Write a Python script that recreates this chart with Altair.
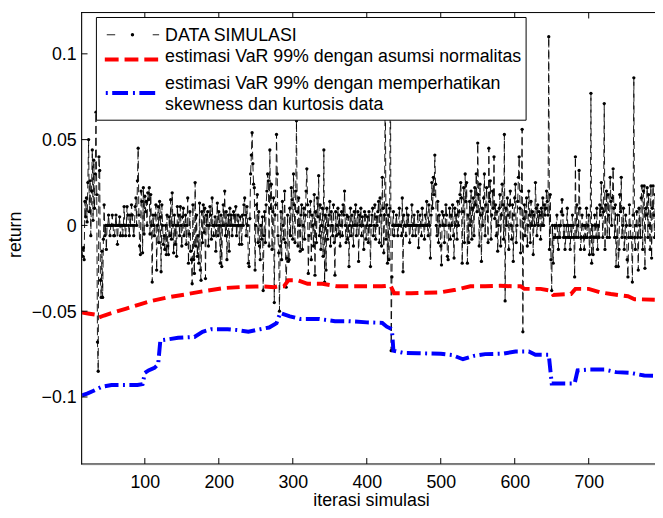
import altair as alt
import pandas as pd

FONT = "Liberation Sans"

# ---- DATA SIMULASI: return (x 1000), one value per iteration ----
# iterations 15 .. 114
ret_015_114 = [
    -14, -18, -13, -20, 14, 5, 16, 2, 25, 50,
    8, 26, -6, 20, 44, 3, 38, 10, 30, 66,
    18, -68, -85, 40, 32, -32, -42, -15, -42, -8,
    12, -6, 0, -14, 0, 0, 6, 0, -6, 0,
    0, 6, 0, -6, -6, 0, 6, 0, -11, 0,
    0, 5, -6, 0, 0, -6, 0, 11, 0, -6,
    0, 11, 6, 0, -6, 6, 0, 12, 6, 0,
    -6, 0, 11, 16, 0, 26, 45, 6, -12, -17,
    20, 14, -16, 22, -5, 17, 8, 14, 0, 19,
    15, 22, -5, 18, 0, -33, 6, 0, -6, 6,
]
# iterations 115 .. 214
ret_115_214 = [
    12, -26, 0, 11, -10, 14, 5, -27, 12, 0,
    -11, -6, -14, 0, -17, 6, -12, -17, 5, -6,
    15, -8, 19, 0, -16, 6, -11, 0, -18, 11,
    0, 6, -6, 11, 0, -12, 5, 10, -6, 0,
    6, -11, 0, 16, -22, -5, 8, -15, -20, -34,
    12, -20, -28, 25, -12, 6, -18, -6, -22, 13,
    -26, -32, 8, -10, 12, -4, 10, -31, 6, 0,
    8, -12, 0, 11, 6, -8, 16, 0, -6, 0,
    5, -15, 0, 13, -6, 8, 0, -22, 6, -24,
    0, 12, 0, 20, -6, 8, -20, 0, 6, -15,
]
# iterations 215 .. 314
ret_215_314 = [
    10, 0, 6, -6, 0, 8, 6, 0, 11, -6,
    0, 6, 0, -11, 5, 0, -11, 6, 0, 12,
    16, 6, -6, 11, 0, -22, -24, 4, 30, 41,
    54, 36, 24, 22, -26, 0, 12, 18, -10, 8,
    -12, -20, 0, -8, 5, -38, -6, 8, -10, 12,
    20, 30, 26, -12, 44, 10, 24, -14, 8, 16,
    -45, 6, 12, 53, 30, -6, -16, -50, -12, 8,
    -20, 14, 0, -8, 20, -10, -36, -19, 6, -21,
    -20, 10, -6, 22, 15, -8, 30, 12, -10, 20,
    61, 8, -12, 16, 0, -15, 6, 12, -14, 0,
]
# iterations 315 .. 414
ret_315_414 = [
    10, -8, 6, 20, 33, 12, -28, -6, 8, 14,
    -20, 6, 0, -12, 18, -29, 8, -10, 16, 5,
    29, -6, 12, -14, 0, 10, -18, 44, -33, 6,
    -26, 10, -8, 0, 6, 14, -12, 8, 0, -6,
    12, -10, -29, 8, -6, 0, 10, -5, 6, -12,
    0, 8, -6, 12, 6, 20, 0, -10, 6, -8,
    5, -24, 0, 10, -6, 6, 0, -12, 8, 0,
    12, -6, 0, 8, -21, 6, 0, 10, -6, 5,
    0, -14, 8, 6, -8, 0, 5, -10, 8, 0,
    -24, 0, 6, 10, -6, 0, 12, -8, 5, 0,
]
# iterations 415 .. 514
ret_415_514 = [
    8, 14, -10, 16, 6, -12, 28, 10, -16, 6,
    90, -8, 12, -22, 6, -20, 10, 105, -73, -30,
    0, 8, -6, 0, 0, 6, 0, -6, 0, 10,
    0, 0, -6, 16, -27, 6, 0, 0, -6, 10,
    0, 6, 0, -10, 0, 0, 12, -6, 0, 6,
    0, -6, 0, 0, 8, -13, 0, 6, 0, -6,
    10, 0, 0, -8, 6, 0, 14, 0, -6, 12,
    0, -19, 6, 25, 10, 28, 18, 41, 24, 0,
    -6, 14, -10, 6, 0, -12, -23, 8, 0, 6,
    -10, 0, 12, 6, -18, -20, 0, 10, -8, 6,
]
# iterations 515 .. 614
ret_515_614 = [
    0, 12, -6, -19, 10, 0, 6, -8, 14, 0,
    8, 18, 25, 16, -22, 8, 22, -10, 30, 14,
    25, -22, 6, -10, 14, 0, 20, -8, 10, 16,
    -6, 22, 12, 30, 8, 48, 18, -12, 24, 6,
    -21, 10, 0, 16, 30, -6, 12, 22, 8, -10,
    45, 14, 26, -8, 6, 20, 10, 40, 4, 12,
    -6, 8, -15, 0, 10, 18, -12, 6, 24, 12,
    -8, 53, -44, 10, 0, 16, 6, -14, 12, 20,
    0, -8, 12, -21, 6, 16, 24, -10, 0, 14,
    28, 40, 10, -16, 20, 56, -62, 4, 12, -6,
]
# iterations 615 .. 714
ret_615_714 = [
    8, 16, -12, 0, 20, 6, -10, 14, 0, 8,
    -17, 6, 0, 25, 10, -6, 12, 0, 8, 6,
    -8, 10, 0, 16, 0, 12, 6, 10, 20, 14,
    6, 110, -14, 18, -20, -38, 0, -22, -7, 0,
    -7, 0, 6, -7, -14, 0, -7, 0, 8, 15,
    6, -7, 0, -14, -7, 0, 10, -7, 0, -7,
    -14, 0, -7, 6, 0, -7, -30, 40, -7, 12,
    0, -7, 32, 10, -14, -7, 6, 0, -7, -14,
    0, -7, 10, -7, 0, 6, -17, -7, 77, -22,
    0, -17, -7, 6, 0, -7, 10, -14, 0, -7,
]
# iterations 715 .. 794
ret_715_794 = [
    12, 6, 25, 10, -7, 8, 71, -14, 12, 20,
    -7, 18, 6, -7, 28, 14, 0, 16, 33, 10,
    -7, 12, -24, -7, 6, -24, -14, 18, 8, 28,
    -7, 0, 10, -14, -7, 6, 0, -20, -30, -7,
    12, 0, -7, -7, -33, 6, 86, -7, -14, 0,
    8, -7, -26, 10, 0, -7, 16, 23, -14, 20,
    23, -25, 10, 6, 22, -7, 18, 0, -14, 23,
    -19, 10, 23, 6, -7, 18, 0, 12, -7, 6,
]

# ---- VaR 99% normal assumption (x 1000) ----
red_x = [15, 25, 33, 37, 45, 56, 75, 90, 109, 130,
         154, 180, 207, 235, 260, 275, 280, 288, 294, 307,
         320, 340, 360, 390, 420, 432, 437, 460, 480, 500,
         520, 540, 560, 580, 600, 608, 613, 635, 648, 652,
         676, 682, 700, 715, 730, 753, 762, 790]
red_y = [-50.8, -51.5, -52, -53.8, -52.5, -51, -48.5, -46.5, -44, -42,
         -40.3, -38.3, -36.5, -35.8, -35.5, -36, -35.5, -35.5, -32, -32,
         -34, -34, -35.5, -35.5, -35.5, -35, -39.5, -39.5, -39.2, -39,
         -37.5, -35.5, -35.5, -35.2, -35.5, -35.5, -37, -37, -38, -40.5,
         -40, -37, -37, -39, -40, -41.3, -43, -43.3]

# ---- VaR 99% with skewness & kurtosis (x 1000) ----
blue_x = [15, 22, 30, 42, 55, 90, 97, 100, 105, 113,
          118, 121, 130, 145, 167, 178, 190, 212, 225, 240,
          250, 268, 278, 283, 296, 310, 335, 357, 375, 400,
          421, 427, 434, 436, 450, 470, 500, 515, 530, 545,
          560, 583, 601, 619, 628, 646, 650, 681, 685, 700,
          721, 737, 757, 775, 790]
blue_y = [-99, -98, -96.5, -94, -93, -93, -92.5, -86, -84.5, -83,
          -81, -67, -66.5, -65.5, -65, -62, -60.5, -60.5, -61, -62,
          -61, -59.5, -57, -51, -53, -54.5, -54.5, -55.8, -55.8, -56.5,
          -56.8, -59, -60.5, -73, -74.3, -74.5, -74.8, -75.5, -78, -76,
          -75, -74.8, -73.5, -73.5, -75.4, -75.4, -92.1, -92.1, -84.5, -84,
          -84, -85.5, -86, -87.5, -87.7]

x_ticks = [100, 200, 300, 400, 500, 600, 700]
y_ticks = [-0.1, -0.05, 0, 0.05, 0.1]

legend_labels = [
    "DATA SIMULASI",
    "estimasi VaR 99% dengan asumsi normalitas",
    "estimasi VaR 99% dengan memperhatikan",
    "skewness dan kurtosis data",
]
x_title = "iterasi simulasi"
y_title = "return"

# ---- build tables ----
segments = [(15, ret_015_114), (115, ret_115_214), (215, ret_215_314),
            (315, ret_315_414), (415, ret_415_514), (515, ret_515_614),
            (615, ret_615_714), (715, ret_715_794)]
rows = []
for start, vals in segments:
    for i, v in enumerate(vals):
        rows.append({"x": start + i, "y": v / 1000.0})
df = pd.DataFrame(rows)
df_red = pd.DataFrame({"x": red_x, "y": [v / 1000.0 for v in red_y]})
df_blue = pd.DataFrame({"x": blue_x, "y": [v / 1000.0 for v in blue_y]})
df_xt = pd.DataFrame({"x": x_ticks})
df_yt = pd.DataFrame({"y": y_ticks})
one = pd.DataFrame({"k": [0]})

W, H = 580, 458
xs = alt.Scale(domain=[15.2, 789.6], nice=False, zero=False)
ys = alt.Scale(domain=[-0.13932, 0.12435], nice=False, zero=False)

x_axis = alt.Axis(values=x_ticks, title=None, grid=False, domain=False, ticks=False,
                  tickSize=0, labelFontSize=18, labelFont=FONT, labelColor="black",
                  labelPadding=9, labelFlush=False)
y_axis = alt.Axis(values=y_ticks, format="~g", title=None, grid=False, domain=False,
                  ticks=False, tickSize=0, labelFontSize=18, labelFont=FONT,
                  labelColor="black", labelPadding=6, labelFlush=False, labelOffset=1)
X = alt.X("x:Q", scale=xs, axis=x_axis)
Y = alt.Y("y:Q", scale=ys, axis=y_axis)

black_line = alt.Chart(df).mark_line(color="black", strokeWidth=0.9,
                                     strokeDash=[8, 4], clip=True).encode(x=X, y=Y)
black_pts = alt.Chart(df).mark_circle(color="black", size=11, opacity=1,
                                      clip=True).encode(x=X, y=Y)
red_line = alt.Chart(df_red).mark_line(color="#ff0000", strokeWidth=4,
                                       strokeDash=[13, 6], clip=True).encode(x=X, y=Y)
blue_line = alt.Chart(df_blue).mark_line(color="#0000ff", strokeWidth=4,
                                         strokeDash=[14, 4.5, 2, 4.5], clip=True).encode(x=X, y=Y)

tick_b = alt.Chart(df_xt).mark_rule(color="black", strokeWidth=1).encode(
    x=X, y=alt.value(H - 0.5), y2=alt.value(H - 6.5))
tick_t = alt.Chart(df_xt).mark_rule(color="black", strokeWidth=1).encode(
    x=X, y=alt.value(0.5), y2=alt.value(6.5))
tick_l = alt.Chart(df_yt).mark_rule(color="black", strokeWidth=1).encode(
    y=Y, x=alt.value(-0.5), x2=alt.value(5.5))

frame_l = alt.Chart(one).mark_rule(color="black", strokeWidth=1).encode(
    x=alt.value(-0.5), y=alt.value(0), y2=alt.value(H))
frame_t = alt.Chart(one).mark_rule(color="black", strokeWidth=1).encode(
    x=alt.value(-1), x2=alt.value(W), y=alt.value(0.5))
frame_b = alt.Chart(one).mark_rule(color="black", strokeWidth=1).encode(
    x=alt.value(-1), x2=alt.value(W), y=alt.value(H - 0.5))

# legend
leg_box = alt.Chart(one).mark_rect(fill="white", stroke="black", strokeWidth=1).encode(
    x=alt.value(14.5), x2=alt.value(449.5), y=alt.value(5.5), y2=alt.value(109.5))
leg_k1 = alt.Chart(one).mark_rule(color="black", strokeWidth=0.9).encode(
    x=alt.value(25), x2=alt.value(33.5), y=alt.value(23))
leg_k2 = alt.Chart(one).mark_rule(color="black", strokeWidth=0.9).encode(
    x=alt.value(71.5), x2=alt.value(78), y=alt.value(23))
leg_kp = alt.Chart(one).mark_circle(color="black", size=12, opacity=1).encode(
    x=alt.value(51), y=alt.value(23))
leg_r = alt.Chart(one).mark_rule(color="#ff0000", strokeWidth=4, strokeDash=[14, 6]).encode(
    x=alt.value(23), x2=alt.value(78), y=alt.value(48))
leg_b = alt.Chart(one).mark_rule(color="#0000ff", strokeWidth=4,
                                 strokeDash=[2, 4.5, 16, 5]).encode(
    x=alt.value(24), x2=alt.value(78), y=alt.value(82))

def txt(label, x, y, **kw):
    return alt.Chart(one).mark_text(text=label, fontSize=18, font=FONT, color="black",
                                    **kw).encode(x=alt.value(x), y=alt.value(y))

leg_t = [
    txt(legend_labels[0], 84, 29.3, align="left", baseline="alphabetic"),
    txt(legend_labels[1], 84, 50.5, align="left", baseline="alphabetic"),
    txt(legend_labels[2], 84, 78, align="left", baseline="alphabetic"),
    txt(legend_labels[3], 84, 99.3, align="left", baseline="alphabetic"),
]
xt = txt(x_title, 293, 500, align="center", baseline="alphabetic")
yt = txt(y_title, -66.5, 225.5, align="center", baseline="middle", angle=270)

chart = alt.layer(
    black_line, black_pts, red_line, blue_line,
    tick_b, tick_t, tick_l, frame_l, frame_t, frame_b,
    leg_box, leg_k1, leg_k2, leg_kp, leg_r, leg_b, *leg_t, xt, yt,
).properties(
    width=W, height=H,
    padding={"left": 75, "top": 1, "right": 0, "bottom": 43},
    autosize=alt.AutoSizeParams(type="none"),
).configure_view(stroke=None).configure(font=FONT, background="white")

chart.save("out.html", embed_options={"renderer": "svg", "actions": False})
